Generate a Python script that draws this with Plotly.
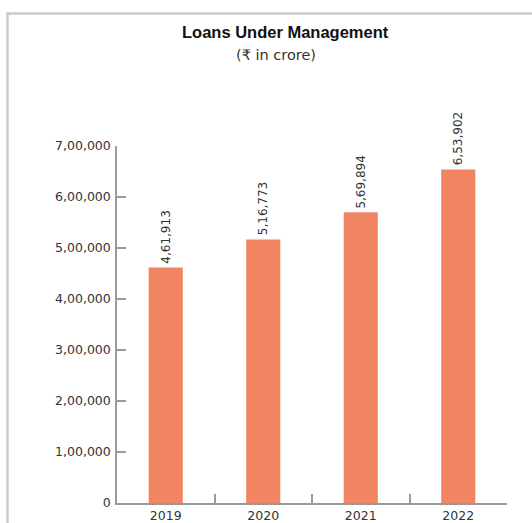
import plotly.graph_objects as go

# Loans under management, in crore of rupees
years = ["2019", "2020", "2021", "2022"]
loans = [461913, 516773, 569894, 653902]

y_ticks = [0, 100000, 200000, 300000, 400000, 500000, 600000, 700000]


def indian_format(n):
    """Group digits the Indian way: 6,53,902"""
    s = str(int(n))
    if len(s) <= 3:
        return s
    head, tail = s[:-3], s[-3:]
    groups = []
    while len(head) > 2:
        groups.insert(0, head[-2:])
        head = head[:-2]
    if head:
        groups.insert(0, head)
    return ",".join(groups) + "," + tail


FONT = "DejaVu Sans, Verdana, sans-serif"
TITLE_FONT = "Liberation Sans, Arial, sans-serif"
TEXT = "#333333"
AXIS = "#9a9a9a"

W, H = 532, 523
plot_left, plot_right = 117, 507
plot_top, plot_bottom = 146, 503
plot_w = plot_right - plot_left
plot_h = plot_bottom - plot_top


def px_to_paper(px, py):
    return (px - plot_left) / plot_w, (plot_bottom - py) / plot_h


fig = go.Figure(
    go.Bar(
        x=years,
        y=loans,
        marker=dict(color="#F18562", line=dict(width=0)),
        width=0.35,
        cliponaxis=False,
    )
)

# Rotated value labels sitting on top of each bar (category index on x)
for i, v in enumerate(loans):
    fig.add_annotation(
        x=i, y=v, xref="x", yref="y",
        text=indian_format(v),
        textangle=-90,
        showarrow=False,
        xanchor="center", yanchor="bottom",
        yshift=2,
        font=dict(family=FONT, size=12, color=TEXT),
    )

fig.update_layout(
    width=W,
    height=H,
    margin=dict(l=plot_left, r=W - plot_right, t=plot_top, b=H - plot_bottom,
                autoexpand=False),
    paper_bgcolor="white",
    plot_bgcolor="white",
    showlegend=False,
    font=dict(family=FONT, color=TEXT),
    xaxis=dict(
        type="category",
        range=[-0.5, len(years) - 0.5],
        tickson="boundaries",
        ticks="inside",
        ticklen=9,
        tickwidth=1.5,
        tickcolor=AXIS,
        showline=True,
        linecolor=AXIS,
        linewidth=1.5,
        showgrid=False,
        automargin=False,
        tickfont=dict(size=12.5, color=TEXT),
        fixedrange=True,
    ),
    yaxis=dict(
        range=[0, 700000],
        tickvals=y_ticks,
        ticktext=[indian_format(v) for v in y_ticks],
        ticks="inside",
        ticklen=9,
        tickwidth=1.5,
        tickcolor=AXIS,
        showline=True,
        linecolor=AXIS,
        linewidth=1.5,
        showgrid=False,
        zeroline=False,
        automargin=False,
        tickfont=dict(size=12.5, color=TEXT),
        ticklabelstandoff=2,
    ),
)

# Header
tx, ty = px_to_paper(285, 32)
fig.add_annotation(
    text="<b>Loans Under Management</b>", x=tx, y=ty, xref="paper", yref="paper",
    xanchor="center", yanchor="middle", showarrow=False,
    font=dict(family=TITLE_FONT, size=16.5, color="#111111"),
)
sx, sy = px_to_paper(276, 55)
fig.add_annotation(
    text="(₹ in crore)", x=sx, y=sy, xref="paper", yref="paper",
    xanchor="center", yanchor="middle", showarrow=False,
    font=dict(family=FONT, size=14.5, color=TEXT),
)

# Light grey frame along the top and left edges
fx0, fy0 = px_to_paper(7.5, 530)
fx1, fy1 = px_to_paper(540, 13.5)
fig.add_shape(
    type="path",
    path=f"M {fx0} {fy0} L {fx0} {fy1} L {fx1} {fy1}",
    xref="paper", yref="paper",
    line=dict(color="#cacaca", width=2.5),
)

fig.write_html("out.html")
